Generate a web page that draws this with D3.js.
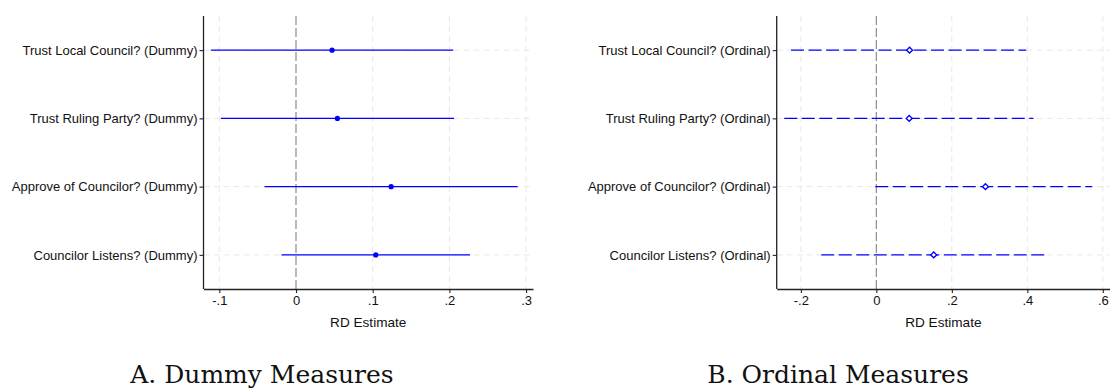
<!DOCTYPE html>
<html>
<head>
<meta charset="utf-8">
<script src="https://cdn.jsdelivr.net/npm/d3@7"></script>
<style>
  body { margin: 0; background: #fff; }
  svg text { font-family: "Liberation Sans", Arial, sans-serif; fill: #111; }
  .subtitle { font-family: "DejaVu Serif", "Liberation Serif", serif; }
</style>
</head>
<body>
<svg id="chart" width="1110" height="388"></svg>
<script>
// RD estimates with confidence intervals, two panels

var dummyLabels = ["Trust Local Council? (Dummy)", "Trust Ruling Party? (Dummy)",
                   "Approve of Councilor? (Dummy)", "Councilor Listens? (Dummy)"];
var dummyEst = [0.047, 0.054, 0.124, 0.104];
var dummyLo  = [-0.111, -0.098, -0.041, -0.019];
var dummyHi  = [0.205, 0.206, 0.289, 0.227];
var dummyTicks = [-0.1, 0, 0.1, 0.2, 0.3];
var dummyDomain = [-0.1206, 0.309];

var ordLabels = ["Trust Local Council? (Ordinal)", "Trust Ruling Party? (Ordinal)",
                 "Approve of Councilor? (Ordinal)", "Councilor Listens? (Ordinal)"];
var ordEst = [0.088, 0.087, 0.289, 0.152];
var ordLo  = [-0.226, -0.244, -0.003, -0.146];
var ordHi  = [0.397, 0.416, 0.572, 0.450];
var ordTicks = [-0.2, 0, 0.2, 0.4, 0.6];
var ordDomain = [-0.264, 0.619];

var svg = d3.select("#chart");
var plotTop = 16, plotBottom = 289;

// stata-ish tick formatting: -.1, 0, .2
function fmt(d) {
    if (d == 0) return "0";
    var s = d3.format(".1f")(Math.abs(d)).replace(/^0/, "");
    return (d < 0 ? "-" : "") + s;
}

function makePanel(opts) {
    var x = d3.scaleLinear().domain(opts.domain).range([opts.left, opts.right]);
    var y = d3.scaleLinear().domain([0.5, 4.5]).range([plotTop, plotBottom]);
    var rows = d3.range(opts.labels.length);
    var g = svg.append("g");

    // grid lines
    g.selectAll("line.vgrid")
      .data(opts.ticks.filter(function(d) {return d != 0;}))
      .enter().append("line")
      .attr("x1", function(d) {return x(d);})
      .attr("x2", function(d) {return x(d);})
      .attr("y1", plotTop).attr("y2", plotBottom)
      .style("stroke", "#e8e8e8").style("stroke-width", 1)
      .style("stroke-dasharray", "6,4");
    g.selectAll("line.hgrid")
      .data(rows)
      .enter().append("line")
      .attr("x1", opts.left).attr("x2", opts.right)
      .attr("y1", function(d) {return y(d + 1);})
      .attr("y2", function(d) {return y(d + 1);})
      .style("stroke", "#e8e8e8").style("stroke-width", 1)
      .style("stroke-dasharray", "6,4");

    // zero reference line
    g.append("line")
      .attr("x1", x(0)).attr("x2", x(0))
      .attr("y1", plotTop).attr("y2", plotBottom)
      .style("stroke", "#8c8c8c").style("stroke-width", 1.2)
      .style("stroke-dasharray", "9,3");

    // confidence intervals
    g.selectAll("line.ci")
      .data(rows)
      .enter().append("line")
      .attr("x1", function(d) {return x(opts.lo[d]);})
      .attr("x2", function(d) {return x(opts.hi[d]);})
      .attr("y1", function(d) {return y(d + 1);})
      .attr("y2", function(d) {return y(d + 1);})
      .style("stroke", "#0000ff").style("stroke-width", 1.3)
      .style("stroke-dasharray", opts.dash);

    // point estimates
    if (opts.hollow) {
        g.selectAll("path.pt")
          .data(rows)
          .enter().append("path")
          .attr("d", d3.symbol().type(d3.symbolDiamond2).size(22))
          .attr("transform", function(d) {return "translate(" + x(opts.est[d]) + "," + y(d + 1) + ")";})
          .style("fill", "#fff").style("stroke", "#0000ff").style("stroke-width", 1.4);
    } else {
        g.selectAll("circle.pt")
          .data(rows)
          .enter().append("circle")
          .attr("r", 2.6)
          .attr("cx", function(d) {return x(opts.est[d]);})
          .attr("cy", function(d) {return y(d + 1);})
          .style("fill", "#0000ff");
    }

    // x axis
    var xa = g.append("g")
      .attr("transform", "translate(0," + plotBottom + ")")
      .call(d3.axisBottom(x).tickValues(opts.ticks).tickFormat(fmt).tickSize(4).tickSizeOuter(0));
    // y axis
    var ya = g.append("g")
      .attr("transform", "translate(" + opts.left + ",0)")
      .call(d3.axisLeft(y).tickValues([1, 2, 3, 4])
            .tickFormat(function(d) {return opts.labels[d - 1];})
            .tickSize(4).tickSizeOuter(0));
    [xa, ya].forEach(function(a) {
        a.select(".domain").style("stroke", "#222").style("stroke-width", 1.3);
        a.selectAll(".tick line").style("stroke", "#222").style("stroke-width", 1.1);
        a.selectAll("text").style("font-family", "Liberation Sans, Arial, sans-serif")
          .style("font-size", "13px").style("fill", "#111");
    });
    ya.select(".domain").attr("d", "M0," + plotTop + "V" + plotBottom);
    ya.selectAll(".tick text").attr("x", -6);
    xa.selectAll(".tick text").attr("y", 7);

    // axis title
    g.append("text")
      .attr("x", (opts.left + opts.right) / 2)
      .attr("y", 327)
      .attr("text-anchor", "middle")
      .style("font-size", "13.6px")
      .text("RD Estimate");

    // panel caption
    g.append("text")
      .attr("class", "subtitle")
      .attr("x", opts.capX)
      .attr("y", 383)
      .attr("text-anchor", "middle")
      .style("font-size", "25px")
      .text(opts.caption);
}

makePanel({labels: dummyLabels, est: dummyEst, lo: dummyLo, hi: dummyHi,
           ticks: dummyTicks, domain: dummyDomain, left: 203.5, right: 533,
           dash: null, hollow: false, caption: "A. Dummy Measures", capX: 262});
makePanel({labels: ordLabels, est: ordEst, lo: ordLo, hi: ordHi,
           ticks: ordTicks, domain: ordDomain, left: 776.7, right: 1110,
           dash: "13,4.5", hollow: true, caption: "B. Ordinal Measures", capX: 838});
</script>
</body>
</html>
